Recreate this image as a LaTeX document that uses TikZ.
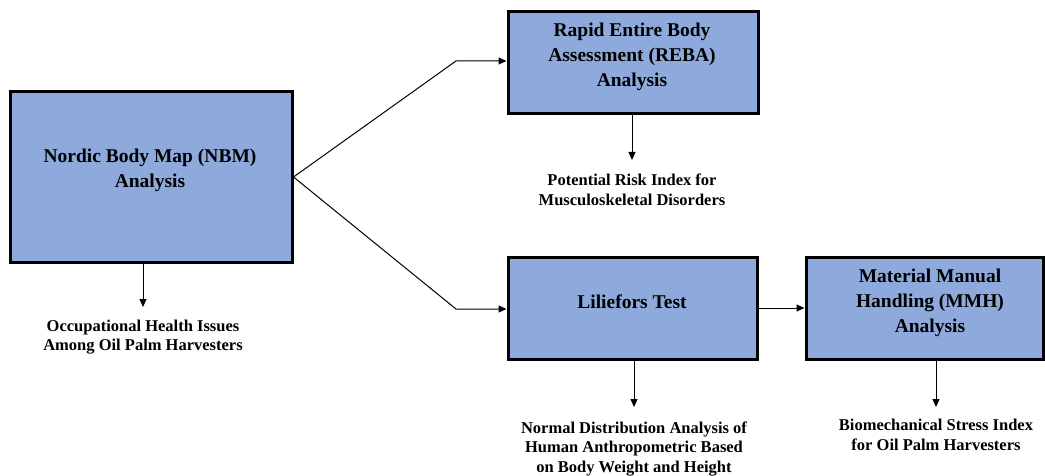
\documentclass[tikz,border=0pt]{standalone}
\usepackage{fontspec}
\setmainfont{Liberation Serif}
\usetikzlibrary{arrows.meta}
\definecolor{boxblue}{RGB}{142,169,219}
\tikzset{
  procbox/.style={draw=black, line width=3pt, fill=boxblue, inner sep=0pt},
  boxtext/.style={align=center, inner sep=0pt, font=\bfseries\fontsize{19.5}{25}\selectfont},
  outtext/.style={align=center, inner sep=0pt, font=\bfseries\fontsize{16.5}{19.5}\selectfont},
  conn/.style={line width=1pt, -{Triangle[length=8pt,width=7pt]}}
}
\begin{document}
\begin{tikzpicture}[x=1pt,y=-1pt]
\useasboundingbox (0,0) rectangle (1045,476);
% boxes
\node[procbox, minimum width=282pt, minimum height=170pt] (nbm) at (151,177) {};
\node[procbox, minimum width=250pt, minimum height=102pt] (reba) at (633,63) {};
\node[procbox, minimum width=249pt, minimum height=102pt] (lil) at (632.5,308) {};
\node[procbox, minimum width=237pt, minimum height=102pt] (mmh) at (924.5,308) {};
% box texts
\node[boxtext] (nbmt) at (150,170) {Nordic Body Map (NBM)\\Analysis};
\node[boxtext] (rebat) at (632,56.5) {Rapid Entire Body\\Assessment (REBA)\\Analysis};
\node[boxtext] (lilt) at (632,302) {Liliefors Test};
\node[boxtext] (mmht) at (930,302.5) {Material Manual\\Handling (MMH)\\Analysis};
% output labels
\node[outtext] (nbml) at (143,337) {Occupational Health Issues\\Among Oil Palm Harvesters};
\node[outtext] (rebal) at (632,190) {Potential Risk Index for\\Musculoskeletal Disorders};
\node[outtext] (lill) at (634,449) {Normal Distribution Analysis of\\Human Anthropometric Based\\on Body Weight and Height};
\node[outtext] (mmhl) at (936,435) {Biomechanical Stress Index\\for Oil Palm Harvesters};
% arrow tips
\coordinate (t1) at (143,307);
\coordinate (t2) at (632,160);
\coordinate (t3) at (634,407);
\coordinate (t4) at (936,407);
\coordinate (c1) at (456,61);
\coordinate (c2) at (456,309);
% connectors
\draw[conn] (nbm.east) -- (c1) -- (reba.west |- c1);
\draw[conn] (nbm.east) -- (c2) -- (lil.west |- c2);
\draw[conn] (lil.east) -- (mmh.west);
\draw[conn] (nbm.south -| t1) -- (t1);
\draw[conn] (reba.south -| t2) -- (t2);
\draw[conn] (lil.south -| t3) -- (t3);
\draw[conn] (mmh.south -| t4) -- (t4);
\end{tikzpicture}
\end{document}
